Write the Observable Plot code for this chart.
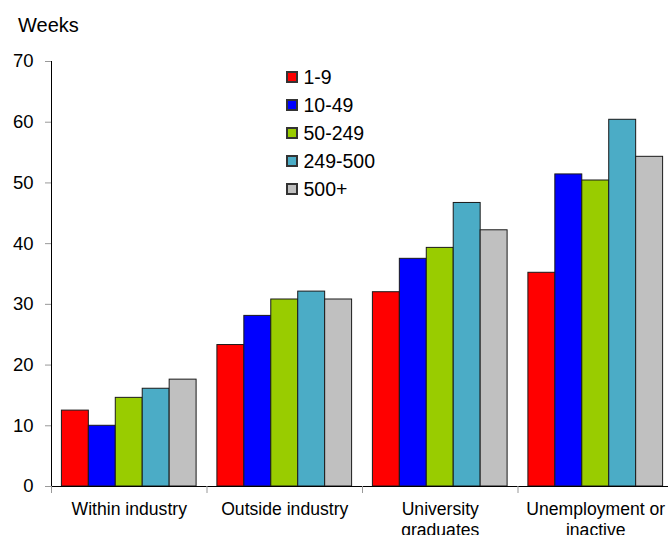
<!DOCTYPE html>
<html>
<head>
<meta charset="utf-8">
<script src="https://cdn.jsdelivr.net/npm/d3@7"></script>
<script src="https://cdn.jsdelivr.net/npm/@observablehq/plot@0.6"></script>
<style>
  html, body { margin: 0; padding: 0; background: #fff; }
  #chart { position: relative; width: 668px; height: 535px; overflow: hidden; font-family: "Liberation Sans", Arial, sans-serif; }
  #unit { position: absolute; left: 18px; top: 15px; font-size: 20px; line-height: 20px; color: #000; }
  #legend { position: absolute; left: 287px; top: 63px; }
  #legend .lg-swatches { margin: 0; }
  #legend .lg-swatch { height: 28px; padding: 0; display: flex; align-items: center; }
  #legend .lg-swatch svg { margin-right: 6.5px; overflow: visible; }
  #legend .lg-swatch svg rect { stroke: #333; stroke-width: 2px; }
</style>
</head>
<body>
<div id="chart">
  <div id="unit">Weeks</div>
  <div id="legend"></div>
</div>
<script>
// Categories (x groups) and their wrapped axis labels
const groups = ["Within industry", "Outside industry", "University graduates", "Unemployment or inactive"];
const groupLabels = ["Within industry", "Outside industry", "University\ngraduates", "Unemployment or\ninactive"];

// Firm-size series and their colours
const series = ["1-9", "10-49", "50-249", "249-500", "500+"];
const seriesColors = ["#ff0000", "#0000ff", "#99cc00", "#4bacc6", "#c0c0c0"];

// Weeks, one value per group, for each firm-size series
const size1to9 = [12.5, 23.3, 32.0, 35.2];
const size10to49 = [10.0, 28.1, 37.5, 51.4];
const size50to249 = [14.6, 30.8, 39.3, 50.4];
const size249to500 = [16.1, 32.1, 46.7, 60.4];
const size500plus = [17.6, 30.8, 42.2, 54.3];

// y-axis ticks
const yTicks = [0, 10, 20, 30, 40, 50, 60, 70];

const seriesValues = [size1to9, size10to49, size50to249, size249to500, size500plus];
const rows = [];
groups.forEach((g, gi) => {
  series.forEach((s, si) => {
    rows.push({group: g, size: s, weeks: seriesValues[si][gi]});
  });
});

const W = 668, H = 535;
const mTop = 61, mBottom = 49, mLeft = 51, mRight = -5;
const plotH = H - mTop - mBottom;

const chart = Plot.plot({
  width: W,
  height: H,
  marginTop: mTop,
  marginBottom: mBottom,
  marginLeft: mLeft,
  marginRight: mRight,
  style: {fontFamily: "'Liberation Sans', Arial, sans-serif", fontSize: "18px", background: "#fff", overflow: "visible"},
  fx: {domain: groups, padding: 0, round: false, axis: null, label: null},
  x: {domain: series, paddingInner: 0, paddingOuter: 0.386, round: false, axis: null},
  y: {domain: [0, 70], axis: null},
  color: {type: "ordinal", domain: series, range: seriesColors},
  marks: [
    Plot.barY(rows, {
      fx: "group", x: "size", y: "weeks", fill: "size",
      stroke: "#1a1a1a", strokeWidth: 1, inset: 0
    }),
    // category baseline
    Plot.ruleY([0], {stroke: "#000", strokeWidth: 1}),
    // value axis line, only in the leftmost panel
    Plot.frame({anchor: "left", facetAnchor: "left", insetBottom: -6, stroke: "#000"}),
    // category boundary ticks
    Plot.frame({anchor: "left", insetTop: plotH, insetBottom: -6, stroke: "#999"}),
    Plot.axisY({
      ticks: yTicks, tickSize: 6, tickPadding: 12, fontSize: 18.5,
      stroke: "#999", fill: "#000", label: null
    }),
    Plot.axisFx({
      anchor: "bottom", tickSize: 0, tickPadding: 14.2, fontSize: 17.6, lineHeight: 1.17,
      fill: "#000", label: null,
      tickFormat: (d) => groupLabels[groups.indexOf(d)]
    })
  ]
});

const container = document.getElementById("chart");
chart.style.position = "absolute";
chart.style.left = "0px";
chart.style.top = "0px";
container.insertBefore(chart, container.firstChild);

const legend = chart.legend("color", {
  legend: "swatches",
  columns: 1,
  swatchSize: 10,
  className: "lg",
  style: {fontFamily: "'Liberation Sans', Arial, sans-serif", fontSize: "19.5px", color: "#000"}
});
document.getElementById("legend").appendChild(legend);
</script>
</body>
</html>
